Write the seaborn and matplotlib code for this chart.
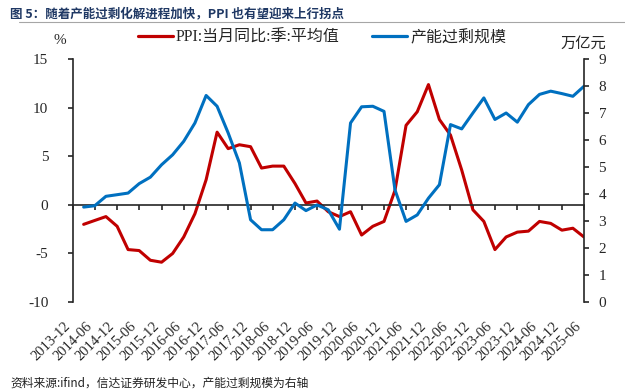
import numpy as np
import pandas as pd
import matplotlib
matplotlib.use("Agg")
import matplotlib.pyplot as plt
import seaborn as sns
from matplotlib.lines import Line2D

# quarterly data, 2014-03 .. 2025-06
quarters = pd.date_range("2014-03-31", "2025-06-30", freq="QE")

ppi_yoy = [-2.0, -1.6, -1.2, -2.2, -4.6, -4.7, -5.7, -5.9, -5.0, -3.3, -0.9,
           2.6, 7.5, 5.8, 6.2, 6.0, 3.8, 4.0, 4.0, 2.2, 0.2, 0.4, -0.7,
           -1.2, -0.7, -3.1, -2.2, -1.7, 1.5, 8.2, 9.6, 12.4, 8.8, 7.2,
           3.6, -0.5, -1.7, -4.6, -3.3, -2.8, -2.7, -1.7, -1.9, -2.6, -2.4, -3.3]

overcap = [3.52, 3.57, 3.92, 3.98, 4.04, 4.39, 4.63, 5.09, 5.46, 5.96, 6.64,
           7.66, 7.26, 6.27, 5.16, 3.05, 2.68, 2.68, 3.05, 3.67, 3.39, 3.60, 3.42,
           2.70, 6.64, 7.24, 7.26, 7.07, 4.16, 2.99, 3.23, 3.85, 4.35, 6.58,
           6.42, 7.01, 7.57, 6.77, 7.01, 6.67, 7.32, 7.70, 7.82, 7.73, 7.63, 8.00]

tick_dates = pd.date_range("2013-12-31", "2025-06-30", freq="6ME")
tick_labels = [d.strftime("%Y-%m") for d in tick_dates]

df = pd.DataFrame({"date": quarters, "ppi": ppi_yoy, "overcap": overcap})

sns.set_style("ticks")
plt.rcParams["font.family"] = ["Liberation Serif", "Noto Sans CJK SC", "DejaVu Sans"]
plt.rcParams["axes.unicode_minus"] = False
cjk = ["Noto Sans CJK SC", "DejaVu Sans"]

red = "#C00000"
blue = "#0070C0"

fig = plt.figure(figsize=(6.25, 3.92), dpi=100)
ax = fig.add_axes([0.1163, 0.2296, 0.818, 0.619])
ax2 = ax.twinx()

sns.lineplot(data=df, x="date", y="ppi", ax=ax, color=red, lw=2.2, legend=False)
sns.lineplot(data=df, x="date", y="overcap", ax=ax2, color=blue, lw=2.2, legend=False)

ax.set_ylim(-10, 15)
ax.set_yticks(range(-10, 16, 5))
ax2.set_ylim(0, 9)
ax2.set_yticks(range(0, 10))
ax.set_xlim(tick_dates[0], tick_dates[-1])
ax.set_xticks(tick_dates)
ax.set_xticklabels(tick_labels)
ax.set_xlabel("")
ax.set_ylabel("")
ax2.set_ylabel("")

# x axis sits on the zero line, labels at the bottom
ax.spines["bottom"].set_position(("data", 0))
ax.spines["bottom"].set_linewidth(1.2)
ax.spines["top"].set_visible(False)
ax.spines["right"].set_visible(False)
ax.spines["left"].set_linewidth(1.2)
for s in ["top", "bottom", "left"]:
    ax2.spines[s].set_visible(False)
ax2.spines["right"].set_linewidth(1.2)

ax.tick_params(axis="x", direction="out", length=3.5, width=1.2, pad=79, labelsize=10.5)
ax.tick_params(axis="y", direction="out", length=3.5, width=1.2, pad=14, labelsize=11)
ax2.tick_params(axis="y", direction="out", length=3.5, width=1.2, pad=7, labelsize=11)

# unit labels
fig.text(0.096, 0.897, "%", fontsize=11, ha="center", va="center")
fig.text(0.933, 0.89, "万亿元", fontsize=11, ha="center", va="center", family=cjk)

# legend
handles = [Line2D([], [], color=red, lw=2.3), Line2D([], [], color=blue, lw=2.3)]
leg = fig.legend(handles, ["PPI:当月同比:季:平均值", "产能过剩规模"], loc="center",
                 bbox_to_anchor=(0.515, 0.903), ncol=2, frameon=False,
                 handlelength=2.2, handletextpad=0.2, columnspacing=2.0,
                 prop={"family": ["Liberation Serif", "Noto Sans CJK SC"], "size": 11.5})

# title and source
fig.text(0.016, 0.965, "图 5：随着产能过剩化解进程加快，PPI 也有望迎来上行拐点",
         fontsize=9, fontweight="bold", color="#1F3864", ha="left", va="center",
         family=cjk)
fig.add_artist(Line2D([0.03, 1.0], [0.944, 0.944], color="#A6A6A6", lw=0.8,
                      transform=fig.transFigure))
fig.text(0.016, 0.022, "资料来源:ifind，信达证券研发中心，产能过剩规模为右轴",
         fontsize=8.5, ha="left", va="center", family=cjk, color="#222222")

# rotate date labels once the ticks exist
fig.canvas.draw()
plt.setp(ax.get_xticklabels(), rotation=45, ha="right", va="top",
         rotation_mode="default")

fig.savefig("out.png", dpi=100)
